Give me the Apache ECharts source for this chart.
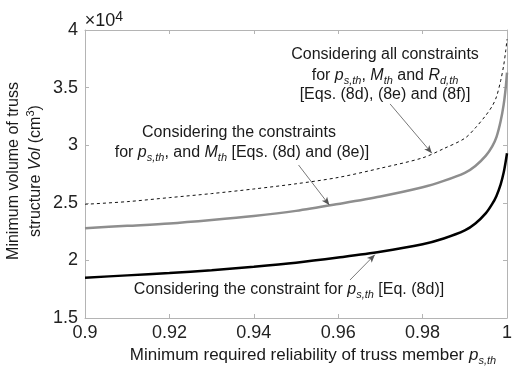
<!DOCTYPE html>
<html>
<head>
<meta charset="utf-8">
<script src="https://cdn.jsdelivr.net/npm/echarts@6/dist/echarts.min.js"></script>
<style>
  html, body { margin: 0; padding: 0; background: #fff; }
  #chart { width: 517px; height: 373px; }
</style>
</head>
<body>
<div id="chart"></div>
<script>
  // reliability p_s,th
  const pValues = [0.90, 0.91, 0.92, 0.93, 0.94, 0.95, 0.96, 0.97, 0.98, 0.985, 0.99, 0.9925, 0.995, 0.9965, 0.9975, 0.9985, 0.9992, 0.9997, 1.0]
  // minimum volume (cm3)
  const volOneConstraint = [18500, 18700, 18900, 19150, 19450, 19800, 20250, 20750, 21400, 21900, 22600, 23200, 24100, 24900, 25600, 26600, 27600, 28600, 29300]
  const volTwoConstraints = [22800, 23000, 23200, 23500, 23850, 24300, 24900, 25550, 26350, 26900, 27600, 28200, 29100, 29900, 30700, 32100, 33500, 35000, 36300]
  const volAllConstraints = [24870, 25100, 25450, 25800, 26200, 26650, 27200, 28000, 28900, 29700, 30600, 31500, 32600, 33400, 34200, 35600, 36900, 38200, 39200]

  const xTicks = { min: 0.9, max: 1, interval: 0.02 }
  const yTicks = { min: 15000, max: 40000, interval: 5000 }

  // arrows: [start, end] in data coords
  const arrowAll = [[0.9723, 33580], [0.9822, 29300]]
  const arrowTwo = [[0.9506, 28280], [0.9579, 24800]]
  const arrowOne = [[0.9628, 18300], [0.9687, 20500]]

  const FONT = 'Liberation Sans, Arial, sans-serif'
  const TXT = '#1a1a1a'

  function pairs(ys) {
    return pValues.map((p, i) => [p, ys[i]])
  }

  // 文本样式 (subscript/superscript)
  const rich = {
    t: { fontSize: 16, fontFamily: FONT, fill: TXT, color: TXT, lineHeight: 20 },
    i: { fontSize: 16, fontFamily: FONT, fontStyle: 'italic', fill: TXT, color: TXT, lineHeight: 20 },
    s: { fontSize: 11, fontFamily: FONT, fontStyle: 'italic', fill: TXT, color: TXT, lineHeight: 8, verticalAlign: 'bottom' },
    n: { fontSize: 16, fontFamily: FONT, fill: TXT, color: TXT, lineHeight: 22 },
    nx: { fontSize: 17, fontFamily: FONT, fill: TXT, color: TXT, lineHeight: 22 },
    ni: { fontSize: 17, fontFamily: FONT, fontStyle: 'italic', fill: TXT, color: TXT, lineHeight: 22 },
    nvi: { fontSize: 16, fontFamily: FONT, fontStyle: 'italic', fill: TXT, color: TXT, lineHeight: 22 },
    ns: { fontSize: 11, fontFamily: FONT, fontStyle: 'italic', fill: TXT, color: TXT, lineHeight: 8, verticalAlign: 'bottom' },
    sup: { fontSize: 11, fontFamily: FONT, fill: TXT, color: TXT, lineHeight: 8, verticalAlign: 'top' },
    big: { fontSize: 18, fontFamily: FONT, fill: TXT, color: TXT, lineHeight: 22 },
    bsup: { fontSize: 14, fontFamily: FONT, fill: TXT, color: TXT, lineHeight: 10, verticalAlign: 'top' }
  }

  function label(text, x, y, rotation) {
    return {
      type: 'text',
      x: x,
      y: y,
      rotation: rotation || 0,
      silent: true,
      style: {
        text: text,
        rich: rich,
        align: 'center',
        verticalAlign: 'middle',
        fontSize: 16,
        fontFamily: FONT,
        fill: TXT
      }
    }
  }

  function arrow(a) {
    return {
      silent: true,
      symbol: ['none', 'arrow'],
      symbolSize: [5, 8],
      label: { show: false },
      lineStyle: { color: '#555', width: 0.8, type: 'solid' },
      emphasis: { disabled: true },
      data: [[{ coord: a[0] }, { coord: a[1] }]]
    }
  }

  const axisLine = { show: true, lineStyle: { color: '#b4b4b4', width: 1 } }
  const axisTick = { show: true, inside: true, length: 4, lineStyle: { color: '#b4b4b4' } }
  const axisLabel = { fontSize: 18, fontFamily: FONT, color: '#222' }

  const chart = echarts.init(document.getElementById('chart'))

  const option = {
    animation: false,
    backgroundColor: '#fff',
    grid: { left: 85, right: 10, top: 30, bottom: 55 },
    xAxis: [
      {
        type: 'value', ...xTicks, position: 'bottom',
        axisLine, axisTick, splitLine: { show: false },
        axisLabel: { ...axisLabel, margin: 6, formatter: v => String(+v.toFixed(2)) }
      },
      {
        type: 'value', ...xTicks, position: 'top',
        axisLine, axisTick, splitLine: { show: false }, axisLabel: { show: false }
      }
    ],
    yAxis: [
      {
        type: 'value', ...yTicks, position: 'left',
        axisLine, axisTick, splitLine: { show: false },
        axisLabel: { ...axisLabel, margin: 7, formatter: v => String(v / 10000) }
      },
      {
        type: 'value', ...yTicks, position: 'right',
        axisLine, axisTick, splitLine: { show: false }, axisLabel: { show: false }
      }
    ],
    series: [
      {
        name: 'all', type: 'line', data: pairs(volAllConstraints),
        showSymbol: false, smooth: 0.3,
        lineStyle: { color: '#111', width: 1, type: [3, 3] },
        markLine: arrow(arrowAll)
      },
      {
        name: 'two', type: 'line', data: pairs(volTwoConstraints),
        showSymbol: false, smooth: 0.3,
        lineStyle: { color: '#8e8e8e', width: 2.5 },
        markLine: arrow(arrowTwo)
      },
      {
        name: 'one', type: 'line', data: pairs(volOneConstraint),
        showSymbol: false, smooth: 0.3,
        lineStyle: { color: '#000', width: 2.5 },
        markLine: arrow(arrowOne)
      }
    ],
    graphic: [
      label('{big|×10}{bsup|4}', 104, 21),
      label('{t|Considering all constraints}', 385, 55),
      label('{t|for }{i|p}{s|s,th}{t|, }{i|M}{s|th}{t| and }{i|R}{s|d,th}', 385, 76),
      label('{t|[Eqs. (8d), (8e) and (8f)]}', 385, 95),
      label('{t|Considering the constraints}', 239, 133),
      label('{t|for }{i|p}{s|s,th}{t|, and }{i|M}{s|th}{t| [Eqs. (8d) and (8e)]}', 242, 153),
      label('{t|Considering the constraint for }{i|p}{s|s,th}{t| [Eq. (8d)]}', 289, 290),
      label('{nx|Minimum required reliability of truss member }{ni|p}{ns|s,th}', 313, 355),
      label('{n|Minimum volume of truss}\n{n|structure }{nvi|Vol}{n| (cm}{sup|3}{n|)}', 25, 171, Math.PI / 2)
    ]
  }

  chart.setOption(option)
</script>
</body>
</html>
